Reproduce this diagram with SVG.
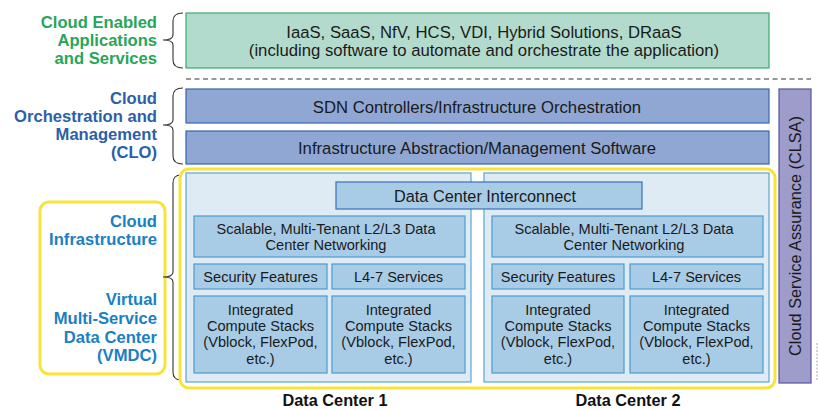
<svg xmlns="http://www.w3.org/2000/svg" width="818" height="409" viewBox="0 0 818 409">
  <style>
    text { font-family: "Liberation Sans", Arial, sans-serif; fill: #1a1a1a; }
    .t16 { font-size: 16.7px; text-anchor: middle; }
    .t15 { font-size: 16.3px; text-anchor: middle; }
    .t14 { font-size: 14.6px; text-anchor: middle; }
    .lbl { font-size: 16.6px; font-weight: bold; text-anchor: end; }
    .green { fill: #27a65a; }
    .navy { fill: #2b5fa8; }
    .sky { fill: #1a80c2; }
    .dc { font-size: 16.3px; font-weight: bold; text-anchor: middle; fill: #111; }
    .apps { fill: #b3dbcd; stroke: #3aa96b; stroke-width: 1.2; }
    .orch { fill: #8fa7d2; stroke: #3566ae; stroke-width: 1.2; }
    .clsa { fill: #9d9ccb; stroke: #55549a; stroke-width: 1.2; }
    .dcbox { fill: #deeaf4; stroke: #5aa5d6; stroke-width: 1.2; }
    .inner { fill: #a8cce6; stroke: #4a9bd0; stroke-width: 1.2; }
    .dci { fill: #a8cce6; stroke: #3a70b5; stroke-width: 1.2; }
    .hl { fill: none; stroke: #f7e33a; stroke-width: 3; }
    .brace { fill: none; stroke: #333; stroke-width: 1.1; }
  </style>

  <!-- layer labels -->
  <g id="label-apps">
    <text class="lbl green" x="157" y="28">Cloud Enabled</text>
    <text class="lbl green" x="157" y="46">Applications</text>
    <text class="lbl green" x="157" y="64">and Services</text>
  </g>
  <g id="label-clo">
    <text class="lbl navy" x="157" y="104">Cloud</text>
    <text class="lbl navy" x="157" y="122">Orchestration and</text>
    <text class="lbl navy" x="157" y="140">Management</text>
    <text class="lbl navy" x="157" y="158">(CLO)</text>
  </g>
  <g id="label-infra">
    <rect class="hl" x="40" y="202" width="125" height="172" rx="9"/>
    <text class="lbl sky" x="157" y="227">Cloud</text>
    <text class="lbl sky" x="157" y="245">Infrastructure</text>
    <text class="lbl sky" x="157" y="305">Virtual</text>
    <text class="lbl sky" x="157" y="324">Multi-Service</text>
    <text class="lbl sky" x="157" y="343">Data Center</text>
    <text class="lbl sky" x="157" y="361">(VMDC)</text>
  </g>

  <!-- braces grouping each layer -->
  <g id="braces">
    <path class="brace" d="M183 13 Q173 13 173 21 L173 35 Q173 40 163 40 Q173 40 173 45 L173 60 Q173 68 183 68"/>
    <path class="brace" d="M183 88 Q173 88 173 96 L173 120 Q173 125 163 125 Q173 125 173 130 L173 156 Q173 164 183 164"/>
    <path class="brace" d="M181 175 Q173 175 173 183 L173 272 Q173 277 163 277 Q173 277 173 282 L173 372 Q173 380 181 380"/>
  </g>

  <!-- separator -->
  <g id="connectors">
    <line x1="186" y1="79" x2="811" y2="79" stroke="#333" stroke-width="1.1" stroke-dasharray="5,3.5"/>
    <line x1="817" y1="343" x2="817" y2="380" stroke="#aaa" stroke-width="1" stroke-dasharray="2,1.5"/>
  </g>

  <g id="apps">
    <rect class="apps" x="186" y="13" width="583" height="55"/>
    <text class="t16" x="484" y="38">IaaS, SaaS, NfV, HCS, VDI, Hybrid Solutions, DRaaS</text>
    <text class="t16" x="484" y="56">(including software to automate and orchestrate the application)</text>
  </g>

  <g id="sdn">
    <rect class="orch" x="186" y="89" width="583" height="34"/>
    <text class="t16" x="477" y="113">SDN Controllers/Infrastructure Orchestration</text>
  </g>
  <g id="abstraction">
    <rect class="orch" x="186" y="131" width="583" height="33"/>
    <text class="t16" x="477" y="154">Infrastructure Abstraction/Management Software</text>
  </g>

  <g id="clsa">
    <rect class="clsa" x="779" y="89" width="32" height="294"/>
    <text class="t15" transform="translate(801,236) rotate(-90)" x="0" y="0">Cloud Service Assurance (CLSA)</text>
  </g>

  <!-- cloud infrastructure highlight -->
  <rect class="hl" x="180" y="169" width="595" height="219" rx="9"/>

  <g id="dc1">
    <rect class="dcbox" x="186" y="173" width="285" height="209"/>
    <rect class="inner" x="194" y="216" width="271" height="41"/>
    <text class="t14" x="326" y="234">Scalable, Multi-Tenant L2/L3 Data</text>
    <text class="t14" x="326" y="250">Center Networking</text>
    <rect class="inner" x="194" y="264" width="133" height="25"/>
    <text class="t14" x="260.5" y="282">Security Features</text>
    <rect class="inner" x="332" y="264" width="133" height="25"/>
    <text class="t14" x="398.5" y="282">L4-7 Services</text>
    <rect class="inner" x="194" y="296" width="133" height="77"/>
    <text class="t14" x="260.5" y="315">Integrated</text>
    <text class="t14" x="260.5" y="331">Compute Stacks</text>
    <text class="t14" x="260.5" y="347">(Vblock, FlexPod,</text>
    <text class="t14" x="260.5" y="364">etc.)</text>
    <rect class="inner" x="332" y="296" width="133" height="77"/>
    <text class="t14" x="398.5" y="315">Integrated</text>
    <text class="t14" x="398.5" y="331">Compute Stacks</text>
    <text class="t14" x="398.5" y="347">(Vblock, FlexPod,</text>
    <text class="t14" x="398.5" y="364">etc.)</text>
    <text class="dc" x="335" y="406">Data Center 1</text>
  </g>

  <g id="dc2">
    <rect class="dcbox" x="484" y="173" width="285" height="209"/>
    <rect class="inner" x="492" y="216" width="271" height="41"/>
    <text class="t14" x="624" y="234">Scalable, Multi-Tenant L2/L3 Data</text>
    <text class="t14" x="624" y="250">Center Networking</text>
    <rect class="inner" x="492" y="264" width="132" height="25"/>
    <text class="t14" x="558" y="282">Security Features</text>
    <rect class="inner" x="630" y="264" width="133" height="25"/>
    <text class="t14" x="696.5" y="282">L4-7 Services</text>
    <rect class="inner" x="492" y="296" width="132" height="77"/>
    <text class="t14" x="558" y="315">Integrated</text>
    <text class="t14" x="558" y="331">Compute Stacks</text>
    <text class="t14" x="558" y="347">(Vblock, FlexPod,</text>
    <text class="t14" x="558" y="364">etc.)</text>
    <rect class="inner" x="630" y="296" width="133" height="77"/>
    <text class="t14" x="696.5" y="315">Integrated</text>
    <text class="t14" x="696.5" y="331">Compute Stacks</text>
    <text class="t14" x="696.5" y="347">(Vblock, FlexPod,</text>
    <text class="t14" x="696.5" y="364">etc.)</text>
    <text class="dc" x="628" y="406">Data Center 2</text>
  </g>

  <g id="interconnect">
    <rect class="dci" x="336" y="182" width="306" height="27"/>
    <text class="t15" x="485" y="202">Data Center Interconnect</text>
  </g>
</svg>
